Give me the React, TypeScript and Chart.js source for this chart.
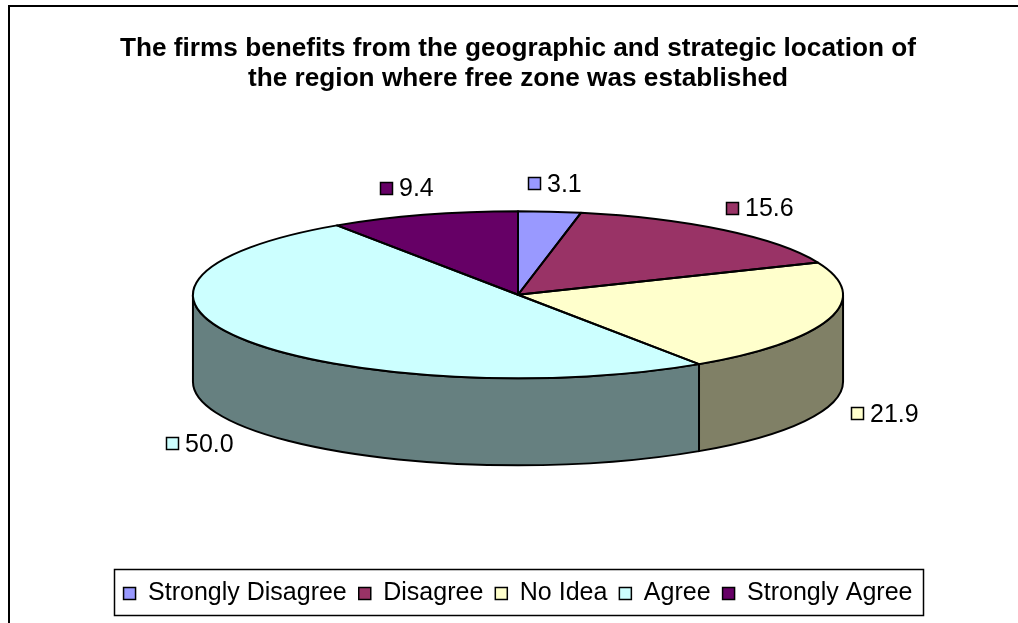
import { useEffect, useRef } from "react";
import { Chart, registerables } from "chart.js";

Chart.register(...registerables);

// ---- data ----
const categories = ["Strongly Disagree", "Disagree", "No Idea", "Agree", "Strongly Agree"];
const percentages = [3.1, 15.6, 21.9, 50.0, 9.4];
const valueLabels = ["3.1", "15.6", "21.9", "50.0", "9.4"];
const titleLines = [
  "The firms benefits from the geographic and strategic location of",
  "the region where free zone was established",
];

// ---- styles ----
const topColors = ["#9999FF", "#993366", "#FFFFCC", "#CCFFFF", "#660066"];
const sideColors = ["#4D4D80", "#4D1A33", "#808066", "#668080", "#330033"];
const FONT = "'Liberation Sans', Arial, sans-serif";
const RX_FRAC = 0.3193; // ellipse half width relative to canvas width
const TILT = 0.257; // vertical squash of the pie
const DEPTH = 87; // thickness of the 3D pie, px
const LABEL_SIZE = 25;
const LABEL_KX = 58;
const LABEL_KY = 28;

type Geo = { x: number; y: number; r: number; cx: number; cy: number; rx: number; ry: number };

const pie3d = {
  id: "pie3d",
  beforeDraw(chart: any) {
    const ctx = chart.ctx;
    ctx.save();
    ctx.fillStyle = "#fff";
    ctx.fillRect(0, 0, chart.width, chart.height);
    ctx.strokeStyle = "#000";
    ctx.lineWidth = 2;
    ctx.strokeRect(9, 6, chart.width + 40, chart.height + 40);
    ctx.restore();
  },
  beforeDatasetsDraw(chart: any) {
    const meta = chart.getDatasetMeta(0);
    const arcs = meta.data;
    if (!arcs.length) return;
    const p = arcs[0].getProps(["x", "y", "outerRadius"], true);
    const area = chart.chartArea;
    const rx = chart.width * RX_FRAC;
    const ry = rx * TILT;
    const cx = (area.left + area.right) / 2;
    const cy = area.top + ry;
    const geo: Geo = { x: p.x, y: p.y, r: p.outerRadius, cx, cy, rx, ry };
    chart.$geo = geo;
    const ctx = chart.ctx;
    // side walls (front half only: canvas angles 0..PI)
    ctx.save();
    ctx.lineWidth = 2;
    ctx.strokeStyle = "#000";
    ctx.lineJoin = "round";
    arcs.forEach((arc: any, i: number) => {
      const { startAngle, endAngle } = arc.getProps(["startAngle", "endAngle"], true);
      const a = Math.max(startAngle, 0);
      const b = Math.min(endAngle, Math.PI);
      if (b <= a) return;
      ctx.beginPath();
      ctx.ellipse(cx, cy, rx, ry, 0, a, b, false);
      ctx.lineTo(cx + rx * Math.cos(b), cy + ry * Math.sin(b) + DEPTH);
      ctx.ellipse(cx, cy + DEPTH, rx, ry, 0, b, a, true);
      ctx.closePath();
      ctx.fillStyle = sideColors[i];
      ctx.fill();
      ctx.stroke();
    });
    ctx.restore();
    // squash the library's own pie into an ellipse
    ctx.save();
    ctx.translate(cx, cy);
    ctx.scale(rx / geo.r, ry / geo.r);
    ctx.translate(-geo.x, -geo.y);
  },
  afterDatasetsDraw(chart: any) {
    const geo: Geo = chart.$geo;
    if (!geo) return;
    const ctx = chart.ctx;
    ctx.restore();
    const arcs = chart.getDatasetMeta(0).data;
    ctx.save();
    ctx.lineWidth = 2;
    ctx.strokeStyle = "#000";
    ctx.lineJoin = "round";
    arcs.forEach((arc: any) => {
      const { startAngle, endAngle } = arc.getProps(["startAngle", "endAngle"], true);
      ctx.beginPath();
      ctx.moveTo(geo.cx, geo.cy);
      ctx.ellipse(geo.cx, geo.cy, geo.rx, geo.ry, 0, startAngle, endAngle, false);
      ctx.closePath();
      ctx.stroke();
    });
    ctx.restore();
  },
  afterDraw(chart: any) {
    const geo: Geo = chart.$geo;
    if (!geo) return;
    const ctx = chart.ctx;
    const arcs = chart.getDatasetMeta(0).data;
    ctx.save();
    ctx.font = `${LABEL_SIZE}px ${FONT}`;
    ctx.textBaseline = "middle";
    ctx.textAlign = "left";
    arcs.forEach((arc: any, i: number) => {
      const { startAngle, endAngle } = arc.getProps(["startAngle", "endAngle"], true);
      const mid = (startAngle + endAngle) / 2;
      const c = Math.cos(mid);
      const s = Math.sin(mid);
      const ex = geo.cx + geo.rx * c;
      let ey = geo.cy + geo.ry * s;
      if (s > 0) ey += DEPTH;
      const lx = ex + c * LABEL_KX;
      const ly = ey + s * LABEL_KY;
      const text = valueLabels[i];
      const tw = ctx.measureText(text).width;
      const box = 13;
      const gap = 6;
      const total = box + gap + tw;
      const x0 = Math.round(lx - total / 2);
      const y0 = Math.round(ly - box / 2);
      ctx.fillStyle = topColors[i];
      ctx.fillRect(x0, y0, box, box);
      ctx.lineWidth = 1.5;
      ctx.strokeStyle = "#000";
      ctx.strokeRect(x0 + 0.5, y0 + 0.5, box - 1, box - 1);
      ctx.fillStyle = "#000";
      ctx.fillText(text, x0 + box + gap, ly + 1);
    });
    // legend frame
    const lg = chart.legend;
    if (lg && lg.legendHitBoxes && lg.legendHitBoxes.length) {
      const hb = lg.legendHitBoxes;
      const left = Math.min(...hb.map((h: any) => h.left)) - 10;
      const right = Math.max(...hb.map((h: any) => h.left + h.width)) + 10;
      ctx.lineWidth = 1.5;
      ctx.strokeStyle = "#000";
      ctx.strokeRect(Math.round(left) + 0.5, Math.round(lg.top) + 0.5, Math.round(right - left), Math.round(lg.bottom - lg.top) - 1);
    }
    ctx.restore();
  },
};

export default function App() {
  const ref = useRef<HTMLCanvasElement | null>(null);
  useEffect(() => {
    if (!ref.current) return;
    const chart = new Chart(ref.current, {
      type: "pie",
      data: {
        labels: categories,
        datasets: [
          {
            data: percentages,
            backgroundColor: topColors,
            borderWidth: 0,
            clip: false as any,
          },
        ],
      },
      options: {
        responsive: false,
        animation: false,
        events: [],
        layout: { padding: { top: 18, left: 18, right: 0, bottom: 7 } },
        plugins: {
          title: {
            display: true,
            text: titleLines,
            color: "#000",
            font: { family: FONT, size: 26.2, weight: "bold", lineHeight: 1.13 },
            padding: { top: 16, bottom: 118 },
          },
          legend: {
            position: "bottom",
            labels: {
              boxWidth: 12,
              boxHeight: 12,
              padding: 12,
              color: "#000",
              font: { family: FONT, size: 25 },
              generateLabels: () =>
                categories.map((c, i) => ({
                  text: c,
                  fillStyle: topColors[i],
                  strokeStyle: "#000",
                  lineWidth: 1.5,
                  hidden: false,
                  index: i,
                  fontColor: "#000",
                })),
            },
          },
          tooltip: { enabled: false },
        },
      },
      plugins: [pie3d],
    });
    return () => chart.destroy();
  }, []);
  return (
    <div style={{ position: "absolute", left: 0, top: 0, width: 1018, height: 623 }}>
      <canvas ref={ref} width={1018} height={623} style={{ display: "block" }} />
    </div>
  );
}
